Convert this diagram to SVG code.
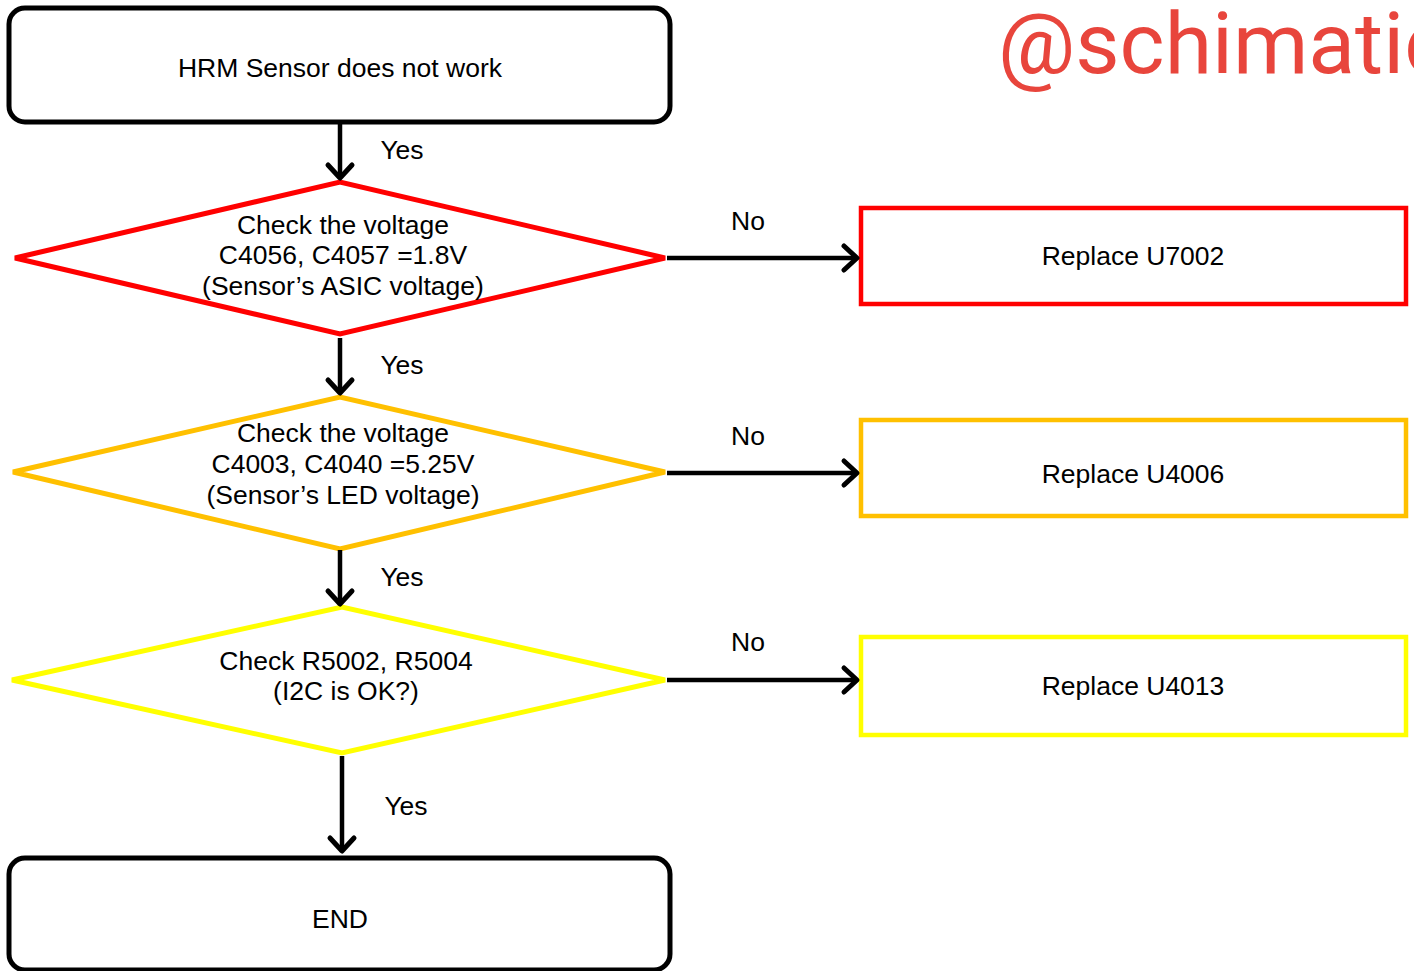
<svg xmlns="http://www.w3.org/2000/svg" width="1414" height="971" viewBox="0 0 1414 971">
<defs>
<marker id="arr" markerUnits="userSpaceOnUse" markerWidth="30" markerHeight="30" refX="22" refY="14" orient="auto" overflow="visible">
<path d="M9,2 L22,14 L9,26" fill="none" stroke="#000" stroke-width="5" stroke-linecap="round" stroke-linejoin="round"/>
</marker>
</defs>
<style>
text{font-family:"Liberation Sans",Arial,sans-serif;font-size:26.5px;fill:#000;text-anchor:middle}
.term{fill:#fff;stroke:#000;stroke-width:5}
.dia{fill:#fff;stroke-width:5}
.box{fill:#fff;stroke-width:4.5}
.con{stroke:#000;stroke-width:4.5;fill:none;marker-end:url(#arr)}
.red{stroke:#ff0000}
.org{stroke:#ffc000}
.yel{stroke:#ffff00}
.wm{font-family:Roboto,sans-serif;font-size:86px;fill:#e8453c;text-anchor:start}
</style>
<rect width="1414" height="971" fill="#fff"/>
<text class="wm" x="998" y="73">@schimatic</text>
<g id="start">
<rect class="term" x="9" y="8" width="661" height="114" rx="16"/>
<text x="340" y="77">HRM Sensor does not work</text>
</g>
<g id="d1">
<polygon class="dia red" points="15,258 340,182 665,258 340,334"/>
<text x="343" y="234">Check the voltage</text>
<text x="343" y="264">C4056, C4057 =1.8V</text>
<text x="343" y="295">(Sensor’s ASIC voltage)</text>
</g>
<g id="r1">
<rect class="box red" x="861" y="208" width="545" height="96"/>
<text x="1133" y="265">Replace U7002</text>
</g>
<g id="d2">
<polygon class="dia org" points="13,472 340,397 665,472 340,549"/>
<text x="343" y="442">Check the voltage</text>
<text x="343" y="473">C4003, C4040 =5.25V</text>
<text x="343" y="504">(Sensor’s LED voltage)</text>
</g>
<g id="r2">
<rect class="box org" x="861" y="420" width="545" height="96"/>
<text x="1133" y="483">Replace U4006</text>
</g>
<g id="d3">
<polygon class="dia yel" points="12,680 342,607 665,680 342,753"/>
<text x="346" y="670">Check R5002, R5004</text>
<text x="346" y="700">(I2C is OK?)</text>
</g>
<g id="r3">
<rect class="box yel" x="861" y="637" width="545" height="98"/>
<text x="1133" y="695">Replace U4013</text>
</g>
<g id="end">
<rect class="term" x="9" y="858" width="661" height="112" rx="16"/>
<text x="340" y="928">END</text>
</g>
<g id="connectors">
<line class="con" x1="340" y1="122" x2="340" y2="178"/>
<line class="con" x1="340" y1="338" x2="340" y2="393"/>
<line class="con" x1="340" y1="550" x2="340" y2="604"/>
<line class="con" x1="342" y1="756" x2="342" y2="851"/>
<line class="con" x1="667" y1="258" x2="857" y2="258"/>
<line class="con" x1="667" y1="473" x2="857" y2="473"/>
<line class="con" x1="667" y1="680" x2="857" y2="680"/>
<text x="402" y="159">Yes</text>
<text x="402" y="374">Yes</text>
<text x="402" y="586">Yes</text>
<text x="406" y="815">Yes</text>
<text x="748" y="230">No</text>
<text x="748" y="445">No</text>
<text x="748" y="651">No</text>
</g>
</svg>
